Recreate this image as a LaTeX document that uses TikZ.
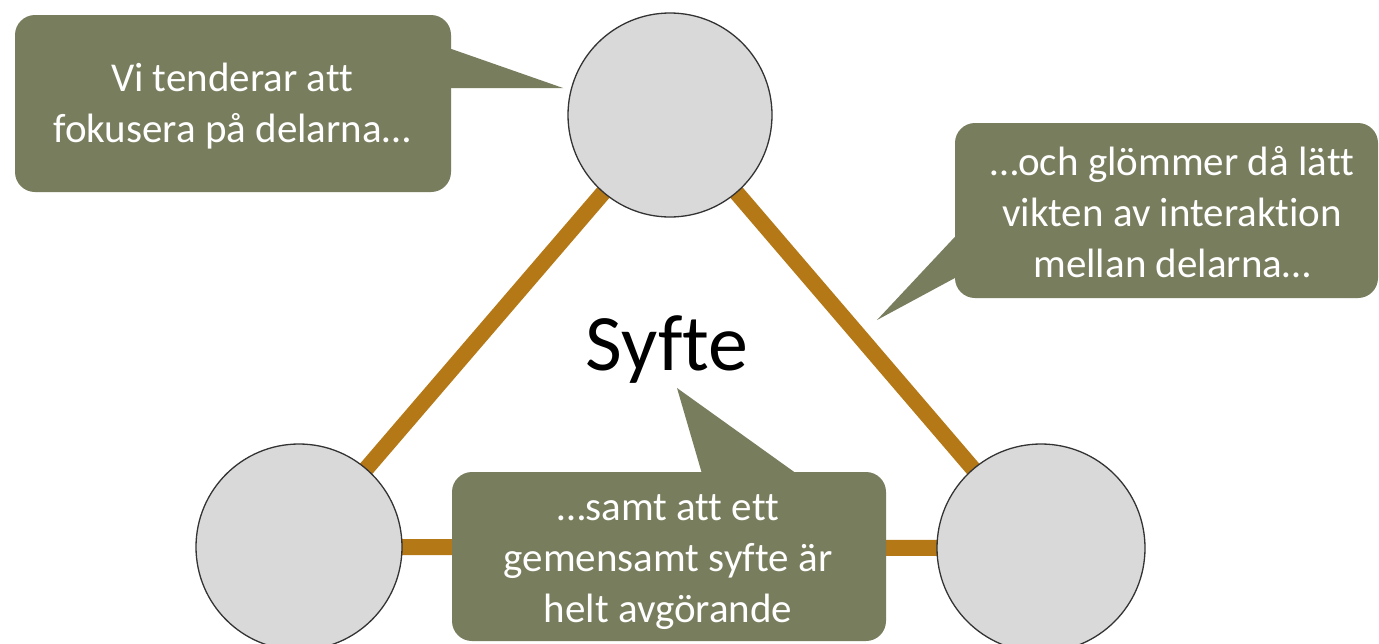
\documentclass[tikz,border=0pt]{standalone}
\usepackage{fontspec}
\setmainfont{Carlito}[Ligatures=NoCommon]
\usetikzlibrary{backgrounds}
\definecolor{bubblefill}{HTML}{777D5D}
\definecolor{linkcol}{HTML}{B47816}
\definecolor{circfill}{HTML}{D9D9D9}
\begin{document}
\begin{tikzpicture}[x=1pt,y=-1pt,
  part/.style={circle,draw=black!80,line width=1.3pt,fill=circfill,minimum size=#1,inner sep=0pt},
  link/.style={draw=linkcol,line width=16pt},
  bubble/.style={fill=bubblefill},
  bubbletext/.style={text=white,align=center,font=\fontsize{41}{51}\selectfont},
]
\useasboundingbox (0,0) rectangle (1379,643);

\node[part=204pt] (T) at (670,115) {};
\node[part=206pt] (L) at (299,547) {};
\node[part=208pt] (R) at (1041,548) {};

\begin{scope}[on background layer]
  \fill[white] (0,0) rectangle (1379,643);
  \draw[link] (L.center) -- (T.center);
  \draw[link] (R.center) -- (T.center);
  \draw[link] (L.center) -- (R.center);
\end{scope}

% left bubble
\fill[bubble,rounded corners=20pt] (15,15) rectangle (451,192);
\fill[bubble] (440,45) -- (563,88) -- (440,88) -- cycle;
\node[bubbletext] (tl) at (232,106) {Vi tenderar att\\fokusera på delarna…};

% right bubble
\fill[bubble,rounded corners=20pt] (955,123) rectangle (1378,298);
\fill[bubble] (966,225) -- (877,320) -- (966,272) -- cycle;
\node[bubbletext] (tr) at (1172,212) {…och glömmer då lätt\\vikten av interaktion\\mellan delarna…};

% bottom bubble
\fill[bubble,rounded corners=20pt] (452,472) rectangle (886,641);
\fill[bubble] (705,484) -- (677,388) -- (811,484) -- cycle;
\node[bubbletext] (tb) at (668,562) {…samt att ett\\gemensamt syfte är\\helt avgörande};

\node[font=\fontsize{80}{86}\selectfont,anchor=base] (syfte) at (667,370) {Syfte};
\end{tikzpicture}
\end{document}
